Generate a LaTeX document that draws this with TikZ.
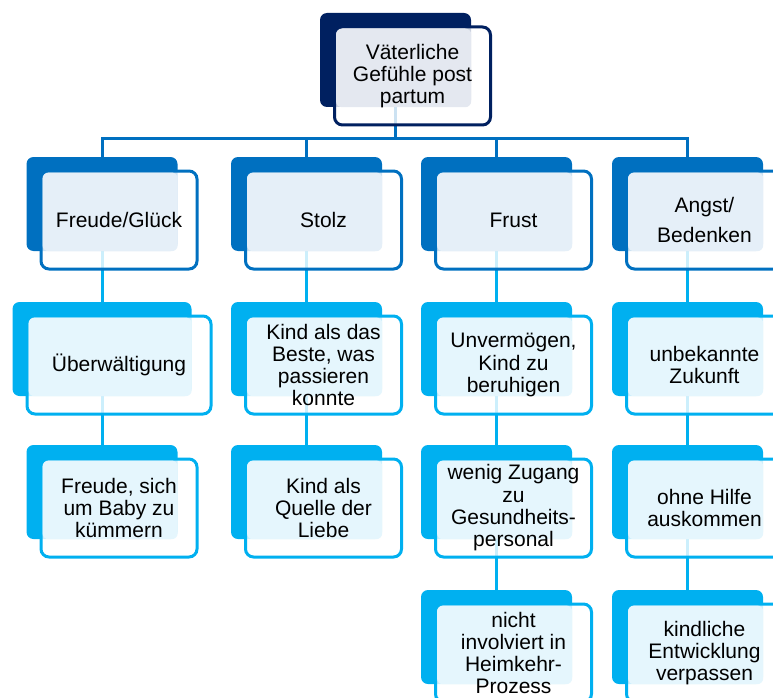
\documentclass[tikz,border=0pt]{standalone}
\usepackage{fontspec}
\setmainfont{Liberation Sans}
\definecolor{vnavy}{RGB}{0,32,96}
\definecolor{vblue}{RGB}{0,112,192}
\definecolor{vcyan}{RGB}{0,176,240}
\definecolor{vnavytint}{RGB}{228,232,240}
\definecolor{vbluetint}{RGB}{229,239,248}
\definecolor{vcyantint}{RGB}{229,246,253}
\usetikzlibrary{positioning,calc,backgrounds}

% back card, outlined front card, tinted overlap, text
\newcommand{\feelbox}[6][151]{%
  \node[backbox, fill=#3, minimum width=#1] (#2) at (#4,#5) {};
  \node[frontbox, draw=#3, minimum width=#1+5] (#2f) at ([shift={(17,16)}]#2) {};
  \fill[fill=#3tint, rounded corners=6] ([shift={(3,3)}]#2f.north west) rectangle (#2.south east);
  \node[labeltext] (#2t) at (#2f) {#6};
}

\begin{document}
\begin{tikzpicture}[
  x=1pt, y=-1pt,
  backbox/.style={rectangle, rounded corners=7, minimum height=94, inner sep=0},
  frontbox/.style={rectangle, rounded corners=8, line width=3, fill=white, fill opacity=0.8, minimum height=98, inner sep=0},
  labeltext/.style={align=center, inner sep=0, font=\fontsize{21}{22.3}\selectfont},
  busline/.style={draw=vblue, line width=3},
  stem/.style={draw=vcyan, line width=3}
]
\useasboundingbox (0,0) rectangle (773,698);
\clip (0,0) rectangle (773,698);

\feelbox{top}{vnavy}{395.5}{60}{Väterliche\\Gefühle post\\partum}

\feelbox{fr}{vblue}{102}{204}{Freude/Glück}
\feelbox{st}{vblue}{306.5}{204}{Stolz}
\feelbox{fu}{vblue}{496.5}{204}{Frust}
\feelbox{an}{vblue}{687.5}{204}{Angst/\\[8pt]Bedenken}

\feelbox[179]{ue}{vcyan}{102}{349}{Überwältigung}
\feelbox{kb}{vcyan}{306.5}{349}{Kind als das\\Beste, was\\passieren\\konnte}
\feelbox{uv}{vcyan}{496.5}{349}{Unvermögen,\\Kind zu\\beruhigen}
\feelbox{uz}{vcyan}{687.5}{349}{unbekannte\\Zukunft}

\feelbox{fb}{vcyan}{102}{492}{Freude, sich\\um Baby zu\\kümmern}
\feelbox{kq}{vcyan}{306.5}{492}{Kind als\\Quelle der\\Liebe}
\feelbox{wz}{vcyan}{496.5}{492}{wenig Zugang\\zu\\Gesundheits-\\personal}
\feelbox{oh}{vcyan}{687.5}{492}{ohne Hilfe\\auskommen}

\feelbox{ni}{vcyan}{496.5}{637}{nicht\\involviert in\\Heimkehr-\\Prozess}
\feelbox{ke}{vcyan}{687.5}{637}{kindliche\\Entwicklung\\verpassen}

\begin{pgfonlayer}{background}
\draw[busline] (top.south) -- ++(0,31) -| (fr.north);
\draw[busline] (top.south) -- ++(0,31) -| (st.north);
\draw[busline] (top.south) -- ++(0,31) -| (fu.north);
\draw[busline] (top.south) -- ++(0,31) -| (an.north);
\draw[stem] (fr.south) -- (ue.north);
\draw[stem] (ue.south) -- (fb.north);
\draw[stem] (st.south) -- (kb.north);
\draw[stem] (kb.south) -- (kq.north);
\draw[stem] (fu.south) -- (uv.north);
\draw[stem] (uv.south) -- (wz.north);
\draw[stem] (wz.south) -- (ni.north);
\draw[stem] (an.south) -- (uz.north);
\draw[stem] (uz.south) -- (oh.north);
\draw[stem] (oh.south) -- (ke.north);
\end{pgfonlayer}
\end{tikzpicture}
\end{document}
